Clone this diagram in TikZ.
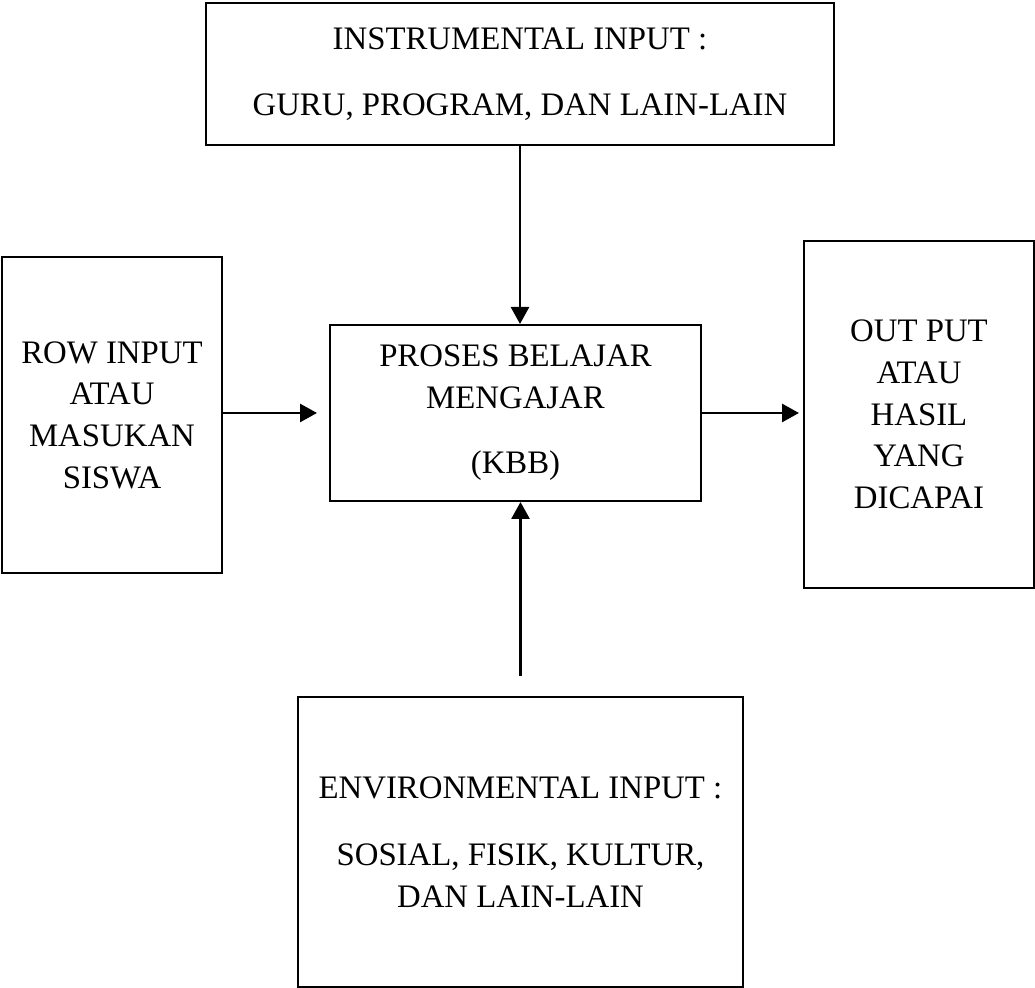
\documentclass[tikz,border=0pt]{standalone}
\usepackage{fontspec}
\setmainfont{Liberation Serif}
\usepackage{tikz}
\usetikzlibrary{arrows.meta}

\begin{document}
\begin{tikzpicture}[x=0.5pt, y=-0.5pt]
  % Define styles
  \tikzstyle{box} = [rectangle, draw, line width=1pt, align=center, inner sep=0pt, font=\fontsize{16.4}{20.8}\selectfont]
  \tikzstyle{arrow} = [line width=1.4pt, -{Triangle[length=8.5pt, width=9pt]}]

  \useasboundingbox (0,0) rectangle (1035,988);

  % Instrumental input
  \node[box, minimum width=314pt, minimum height=71pt] (instr) at (520,74) {INSTRUMENTAL INPUT :\\[12pt]GURU, PROGRAM, DAN LAIN-LAIN};

  % Teaching and learning process
  \node[box, minimum width=185.5pt, minimum height=88pt] (kbb) at (515.5,413) {PROSES BELAJAR\\MENGAJAR\\[12pt](KBB)};

  % Raw input
  \node[box, minimum width=110pt, minimum height=158pt] (rowin) at (112,415) {ROW INPUT\\ATAU\\MASUKAN\\SISWA};

  % Output
  \node[box, minimum width=115pt, minimum height=173.5pt] (output) at (919,414.5) {OUT PUT\\ATAU\\HASIL\\YANG\\DICAPAI};

  % Environmental input
  \node[box, minimum width=222.5pt, minimum height=145pt] (env) at (520.5,842) {ENVIRONMENTAL INPUT :\\[13pt]SOSIAL, FISIK, KULTUR,\\DAN LAIN-LAIN};

  % Arrows
  \draw[arrow] (instr.south) -- (instr.south |- kbb.north);
  \draw[arrow] (rowin.east |- kbb) -- ([xshift=-6pt]kbb.west);
  \draw[arrow] (kbb.east) -- ([xshift=-2pt]output.west |- kbb);
  \draw[arrow] ([yshift=10pt]env.north) -- (env.north |- kbb.south);
\end{tikzpicture}
\end{document}
